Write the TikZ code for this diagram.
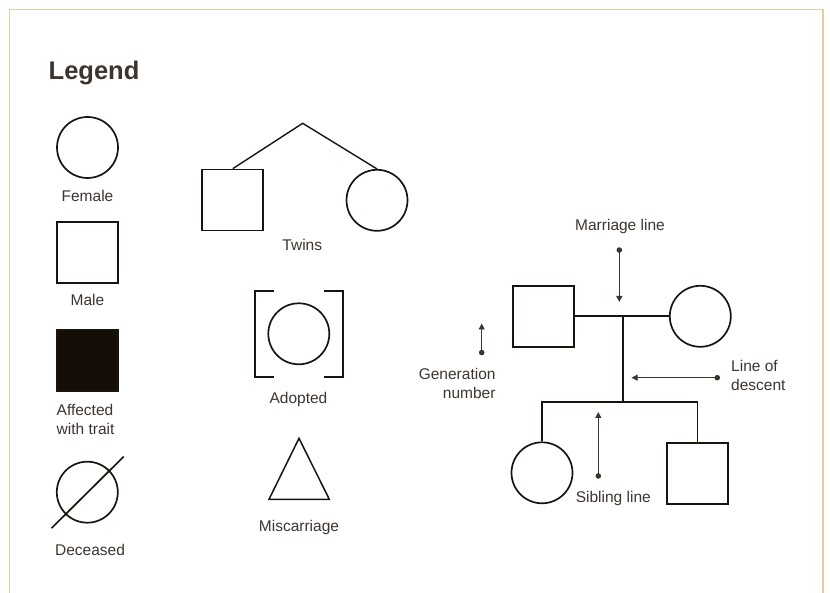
\documentclass[tikz,border=0pt]{standalone}
\usepackage{fontspec}
\setmainfont{Liberation Sans}
\usetikzlibrary{arrows.meta}
\definecolor{frameC}{HTML}{E2CE9E}
\definecolor{txtC}{HTML}{3D342E}
\definecolor{lineC}{HTML}{1A140E}
\definecolor{fillC}{HTML}{140E06}
\tikzset{
  sym/.style={draw=lineC, line width=1.7pt, inner sep=0pt, minimum size=61pt},
  fem/.style={sym, circle},
  mal/.style={sym, rectangle},
  lbl/.style={text=txtC, font=\fontsize{15.5}{18.5}\selectfont, inner sep=0pt},
  conn/.style={draw=lineC, line width=1.7pt},
  note/.style={draw=txtC, line width=0.9pt, {Circle[length=5.5pt]}-{Triangle[width=6pt,length=6pt]}},
}
\begin{document}
\begin{tikzpicture}[x=1pt,y=-1pt]
\useasboundingbox (0,0) rectangle (830,593);
% frame
\draw[frameC, line width=1.8pt] (9.5,593) -- (9.5,9.5) -- (823,9.5) -- (823,593);
% title
\node[anchor=base west, inner sep=0pt, text=txtC, font=\fontsize{25.5}{30}\selectfont\bfseries] (title) at (48.5,79.3) {Legend};
% left column
\node[fem] (female) at (87.5,147.5) {};
\node[lbl] (lfemale) at (87.5,196) {Female};
\node[mal] (male) at (87.3,252.3) {};
\node[lbl] (lmale) at (87.5,299.5) {Male};
\node[mal, fill=fillC] (aff) at (87.3,360.3) {};
\node[lbl, anchor=west, align=left] (laff) at (56.5,419.5) {Affected\\with trait};
\node[fem] (dec) at (87.3,492.2) {};
\draw[conn] ([shift={(-35.8,36)}]dec.center) -- ([shift={(36.4,-35.6)}]dec.center);
\node[lbl] (ldec) at (90,550) {Deceased};
% twins
\node[mal] (twinm) at (232.8,200) {};
\node[fem] (twinf) at (377,200.3) {};
\coordinate (apex) at (302.7,123.3);
\draw[conn, line width=1.4pt] (twinm.north) -- (apex) -- (twinf.north);
\node[lbl] (ltwins) at (302.3,245) {Twins};
% adopted
\node[fem] (adopt) at (298.8,333.8) {};
\draw[conn] (274,290.7) -- (255,290.7) -- (255,377.3) -- (274,377.3);
\draw[conn] (324.3,290.7) -- (342.7,290.7) -- (342.7,377.3) -- (324.3,377.3);
\node[lbl] (ladopt) at (298.5,399.3) {Adopted};
% miscarriage
\draw[conn, line width=1.5pt, line join=miter] (299,438.3) -- (329.3,499.3) -- (269,499.3) -- cycle;
\node[lbl] (lmisc) at (299,527.7) {Miscarriage};
% pedigree
\node[mal] (father) at (543.3,316.3) {};
\node[fem] (mother) at (700.3,316.3) {};
\coordinate (mid) at (622.7,316.3);
\coordinate (sib) at (622.7,402.3);
\node[fem] (child1) at (542,472.8) {};
\node[mal] (child2) at (697.5,473.3) {};
\draw[conn] (father.east) -- (mother.west);
\draw[conn] (mid) -- (sib);
\draw[conn] (child1.north) |- (sib) -| (child2.north);
% annotations
\coordinate (mA) at (619.3,247.3); \coordinate (mB) at (619.3,302);
\draw[note] (mA) -- (mB);
\node[lbl] (lmarr) at (620,226.7) {Marriage line};
\coordinate (gA) at (481.7,355.3); \coordinate (gB) at (481.7,323.5);
\draw[note] (gA) -- (gB);
\node[lbl, anchor=east, align=right] (lgen) at (495.7,383.5) {Generation\\number};
\coordinate (dA) at (720,377.7); \coordinate (dB) at (631.5,377.7);
\draw[note] (dA) -- (dB);
\node[lbl, anchor=west, align=left] (ldesc) at (731,375.5) {Line of\\descent};
\coordinate (sA) at (598.3,478.7); \coordinate (sB) at (598.3,412);
\draw[note] (sA) -- (sB);
\node[lbl] (lsib) at (613.3,498.3) {Sibling line};
\end{tikzpicture}
\end{document}
